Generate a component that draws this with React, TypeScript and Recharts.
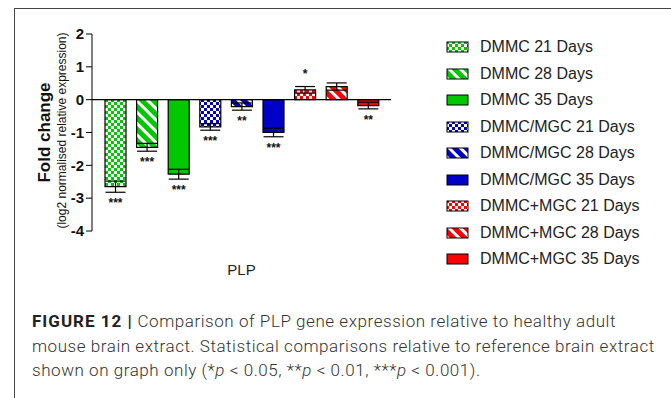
import React from 'react';
import { BarChart, Bar, XAxis, YAxis, ErrorBar, LabelList, ReferenceLine, Legend, Label } from 'recharts';

const categories = ['PLP'];
const groups = [
  'DMMC 21 Days',
  'DMMC 28 Days',
  'DMMC 35 Days',
  'DMMC/MGC 21 Days',
  'DMMC/MGC 28 Days',
  'DMMC/MGC 35 Days',
  'DMMC+MGC 21 Days',
  'DMMC+MGC 28 Days',
  'DMMC+MGC 35 Days',
];
const foldChange = [-2.65, -1.45, -2.27, -0.83, -0.21, -1.0, 0.3, 0.4, -0.18];
const errors = [0.17, 0.12, 0.15, 0.1, 0.11, 0.13, 0.1, 0.11, 0.1];
const stars = ['***', '***', '***', '***', '**', '***', '*', '', '**'];
const yTicks = [2, 1, 0, -1, -2, -3, -4];

const familyColors = ['#00c800', '#0000c8', '#ff0000'];
const dayPatterns = ['check', 'stripe', 'solid'];

const fillFor = (i: number) => {
  const fam = Math.floor(i / 3);
  const pat = dayPatterns[i % 3];
  if (pat === 'solid') return familyColors[fam];
  return `url(#${pat}-${fam})`;
};

const data = categories.map((name) => {
  const row: any = { name };
  groups.forEach((_, i) => {
    row[`v${i}`] = foldChange[i];
    row[`e${i}`] = errors[i];
    row[`s${i}`] = stars[i];
  });
  return row;
});

const starLabel = (i: number) => (props: any) => {
  const vb = props.viewBox && props.viewBox.width != null ? props.viewBox : props;
  const { x, y, width, height } = vb;
  if (!props.value || x == null) return null;
  const v = foldChange[i];
  const ppu = Math.abs(height) / Math.abs(v);
  const errPx = errors[i] * ppu;
  const cx = x + width / 2;
  let ty;
  if (v < 0) {
    ty = Math.max(y, y + height) + errPx + 15;
  } else {
    ty = Math.min(y, y + height) - errPx - 9;
  }
  return (
    <text x={cx} y={ty} textAnchor="middle" fontSize={12} fontWeight={700} fill="#111" fontFamily="Liberation Sans, Arial, sans-serif">
      {props.value}
    </text>
  );
};

// legend drawn in series order (recharts sorts the payload by value otherwise)
const renderLegend = (props: any) => {
  const items = props.payload ?? [];
  const ordered = [...items].sort((a: any, b: any) => groups.indexOf(a.value) - groups.indexOf(b.value));
  return (
    <div>
      {ordered.map((entry: any) => {
        const i = groups.indexOf(entry.value);
        return (
          <div key={entry.value} style={{ display: 'flex', alignItems: 'center', height: 26.5 }}>
            <svg width={23} height={12} style={{ display: 'block' }}>
              <rect x={1} y={1} width={21} height={10} fill={fillFor(i)} stroke="#000" strokeWidth={1} />
            </svg>
            <span style={{ marginLeft: 11, fontSize: 16, color: '#222', fontFamily: 'Liberation Sans, Arial, sans-serif', whiteSpace: 'nowrap' }}>
              {entry.value}
            </span>
          </div>
        );
      })}
    </div>
  );
};

const PlpTick = ({ x, y, payload }: any) => (
  <text x={x} y={y + 36} textAnchor="middle" fontSize={15} fill="#222" fontFamily="Liberation Sans, Arial, sans-serif">
    {payload.value}
  </text>
);

const yLabel = (props: any) => {
  const vb = props.viewBox;
  const cy = vb.y + vb.height / 2;
  const x1 = vb.x + 50;
  const x2 = vb.x + 66;
  return (
    <g fontFamily="Liberation Sans, Arial, sans-serif" fill="#111">
      <text x={x1} y={cy} transform={`rotate(-90, ${x1}, ${cy})`} textAnchor="middle" fontSize={17} fontWeight={700}>
        Fold change
      </text>
      <text x={x2} y={cy - 2} transform={`rotate(-90, ${x2}, ${cy - 2})`} textAnchor="middle" fontSize={12}>
        (log2 normalised relative expression)
      </text>
    </g>
  );
};

export default function App() {
  return (
    <div style={{ position: 'absolute', left: 0, top: 0, width: 671, height: 398, background: '#fff', overflow: 'hidden' }}>
      <div style={{ position: 'absolute', left: 14, top: 8, right: -2, bottom: -2, borderTop: '1.5px solid #444', borderLeft: '1.5px solid #444' }} />
      <div style={{ position: 'absolute', left: 0, top: 0 }}>
        <BarChart width={671} height={290} data={data} margin={{ top: 34, right: 280, bottom: 9, left: 0 }} barSize={21} barGap={10.6}>
          <defs>
            {familyColors.map((c, k) => (
              <React.Fragment key={k}>
                <pattern id={`check-${k}`} width={6} height={6} patternUnits="userSpaceOnUse">
                  <rect width={6} height={6} fill="#fff" />
                  <rect width={3} height={3} fill={c} />
                  <rect x={3} y={3} width={3} height={3} fill={c} />
                </pattern>
                <pattern id={`stripe-${k}`} width={8} height={8} patternUnits="userSpaceOnUse" patternTransform="rotate(-45)">
                  <rect width={8} height={8} fill={c} />
                  <rect width={3} height={8} fill="#fff" />
                </pattern>
              </React.Fragment>
            ))}
          </defs>
          <XAxis dataKey="name" axisLine={false} tickLine={false} height={50} tick={<PlpTick />} />
          <YAxis
            width={92}
            domain={[-4, 2]}
            ticks={yTicks}
            interval={0}
            stroke="#000"
            tickSize={6}
            tickMargin={2}
            tick={{ fill: '#111', fontSize: 15, fontWeight: 700, fontFamily: 'Liberation Sans, Arial, sans-serif' }}
          >
            <Label content={yLabel} />
          </YAxis>
          <ReferenceLine y={0} stroke="#000" strokeWidth={1.2} />
          {groups.map((g, i) => (
            <Bar key={g} dataKey={`v${i}`} name={g} fill={fillFor(i)} stroke="#000" strokeWidth={1.2} isAnimationActive={false}>
              <ErrorBar dataKey={`e${i}`} width={10} stroke="#000" strokeWidth={1.2} direction="y" />
              <LabelList dataKey={`s${i}`} content={starLabel(i)} />
            </Bar>
          ))}
          <Legend
            layout="vertical"
            align="center"
            verticalAlign="middle"
            itemSorter="dataKey"
            content={renderLegend}
            wrapperStyle={{ left: 446, top: 34, width: 224, height: 'auto' }}
          />
        </BarChart>
      </div>
      <div style={{ position: 'absolute', left: 32, top: 309, fontFamily: 'Roboto, Liberation Sans, Arial, sans-serif', fontSize: 17, letterSpacing: 0.55, lineHeight: '24.5px', color: '#333', fontWeight: 300, whiteSpace: 'nowrap' }}>
        <div>
          <span style={{ fontWeight: 700, color: '#222', letterSpacing: 1.0 }}>FIGURE 12 |</span> Comparison of PLP gene expression relative to healthy adult
        </div>
        <div>mouse brain extract. Statistical comparisons relative to reference brain extract</div>
        <div>
          shown on graph only (*<i>p</i> &lt; 0.05, **<i>p</i> &lt; 0.01, ***<i>p</i> &lt; 0.001).
        </div>
      </div>
    </div>
  );
}
